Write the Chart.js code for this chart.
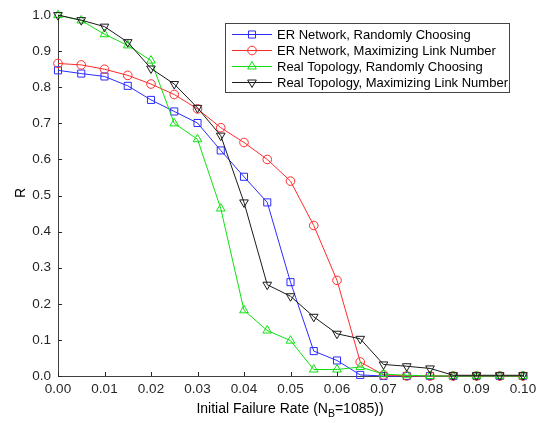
<!DOCTYPE html>
<html>
<head>
<meta charset="utf-8">
<script src="https://cdn.jsdelivr.net/npm/chart.js@4"></script>
<style>
html, body { margin: 0; padding: 0; background: #fff; }
#wrap { width: 542px; height: 423px; }
</style>
</head>
<body>
<div id="wrap"><canvas id="myChart" width="542" height="423"></canvas></div>
<script>
// failure rate values, one point every 0.005
var tasas = [0, 0.005, 0.01, 0.015, 0.02, 0.025, 0.03, 0.035, 0.04, 0.045, 0.05,
    0.055, 0.06, 0.065, 0.07, 0.075, 0.08, 0.085, 0.09, 0.095, 0.1];
var nombres = ['ER Network, Randomly Choosing', 'ER Network, Maximizing Link Number',
    'Real Topology, Randomly Choosing', 'Real Topology, Maximizing Link Number'];
var erAleatorio = [0.847, 0.838, 0.83, 0.804, 0.765, 0.733, 0.701, 0.625, 0.552, 0.481, 0.26,
    0.069, 0.043, 0.003, 0, 0, 0, 0, 0, 0, 0];
var erMaximo = [0.866, 0.862, 0.85, 0.833, 0.809, 0.78, 0.74, 0.688, 0.647, 0.6, 0.54,
    0.417, 0.265, 0.039, 0.003, 0, 0, 0, 0, 0, 0];
var realAleatorio = [1.0, 0.985, 0.947, 0.916, 0.874, 0.70, 0.656, 0.464, 0.182, 0.126, 0.098,
    0.018, 0.018, 0.025, 0.005, 0.002, 0, 0, 0, 0, 0];
var realMaximo = [1.0, 0.986, 0.968, 0.925, 0.852, 0.809, 0.743, 0.666, 0.481, 0.253, 0.221,
    0.164, 0.117, 0.103, 0.032, 0.027, 0.021, 0.002, 0.002, 0.002, 0.002];
var ticksX = [0, 0.01, 0.02, 0.03, 0.04, 0.05, 0.06, 0.07, 0.08, 0.09, 0.1];
var ticksY = [0, 0.1, 0.2, 0.3, 0.4, 0.5, 0.6, 0.7, 0.8, 0.9, 1.0];

var fuente = '"Liberation Sans", Arial, sans-serif';
var gris = '#262626';

function puntos(valores) {
    let res = [];
    for (let i = 0; i < tasas.length; i++) {
        res.push({x: tasas[i], y: valores[i]});
    }
    return res;
}

function serie(i, valores, color, estilo, radio, giro, orden) {
    return {
        label: nombres[i],
        data: puntos(valores),
        borderColor: color,
        backgroundColor: 'rgba(0,0,0,0)',
        pointBorderColor: color,
        pointBackgroundColor: 'rgba(0,0,0,0)',
        pointStyle: estilo,
        pointRadius: radio,
        pointRotation: giro,
        pointBorderWidth: 1,
        borderWidth: 1,
        tension: 0,
        clip: false,
        order: orden
    };
}

// ticks hacia adentro, titulos y leyenda dibujados a mano
var extras = {
    id: 'extras',
    afterDraw: function (chart) {
        let c = chart.ctx;
        let xs = chart.scales.x, ys = chart.scales.y;
        let area = chart.chartArea;
        c.save();
        c.strokeStyle = gris;
        c.lineWidth = 1;
        c.beginPath();
        ticksX.forEach(function (t) {
            let px = Math.round(xs.getPixelForValue(t)) + 0.5;
            c.moveTo(px, area.bottom);
            c.lineTo(px, area.bottom - 4);
        });
        ticksY.forEach(function (t) {
            let py = Math.round(ys.getPixelForValue(t)) + 0.5;
            c.moveTo(area.left, py);
            c.lineTo(area.left + 4, py);
        });
        c.stroke();

        // titulo eje x con subindice
        c.fillStyle = '#000';
        c.textBaseline = 'alphabetic';
        c.font = '14px ' + fuente;
        let partes = ['Initial Failure Rate (N', 'B', '=1085))'];
        let w0 = c.measureText(partes[0]).width;
        c.font = '10.5px ' + fuente;
        let w1 = c.measureText(partes[1]).width;
        c.font = '14px ' + fuente;
        let w2 = c.measureText(partes[2]).width;
        let x0 = 290 - (w0 + w1 + w2) / 2;
        let yb = 413;
        c.textAlign = 'left';
        c.fillText(partes[0], x0, yb);
        c.font = '10.5px ' + fuente;
        c.fillText(partes[1], x0 + w0, yb + 4);
        c.font = '14px ' + fuente;
        c.fillText(partes[2], x0 + w0 + w1, yb);

        // titulo eje y
        c.save();
        c.translate(25, 193);
        c.rotate(-Math.PI / 2);
        c.textAlign = 'center';
        c.fillText('R', 0, 0);
        c.restore();

        // leyenda
        let bx = 225.5, by = 23.5, bw = 284, bh = 69;
        c.fillStyle = '#fff';
        c.fillRect(bx, by, bw, bh);
        c.strokeStyle = '#444';
        c.strokeRect(bx, by, bw, bh);
        let filas = [34.5, 50.5, 66.5, 82.5];
        nombres.forEach(function (nombre, k) {
            let ds = chart.data.datasets[k];
            let y = filas[k];
            c.strokeStyle = ds.borderColor;
            c.lineWidth = 1;
            c.beginPath();
            c.moveTo(232, y);
            c.lineTo(272, y);
            c.stroke();
            c.fillStyle = 'rgba(0,0,0,0)';
            Chart.helpers.drawPoint(c, {
                pointStyle: ds.pointStyle,
                rotation: ds.pointRotation,
                radius: ds.pointRadius,
                borderWidth: 1
            }, 252, y);
            c.fillStyle = '#000';
            c.font = '13px ' + fuente;
            c.textAlign = 'left';
            c.textBaseline = 'middle';
            c.fillText(nombre, 277, y + 0.5);
        });
        c.restore();
    }
};

var ctx = document.getElementById('myChart').getContext('2d');
const myChart = new Chart(ctx, {
    type: 'line',
    data: {
        datasets: [
            serie(0, erAleatorio, '#2b2bff', 'rect', 5, 0, 4),
            serie(1, erMaximo, '#ff2b2b', 'circle', 4.3, 0, 3),
            serie(2, realAleatorio, '#10e010', 'triangle', 5, 0, 2),
            serie(3, realMaximo, '#1a1a1a', 'triangle', 5, 180, 1)
        ]
    },
    options: {
        responsive: false,
        animation: false,
        layout: {padding: {top: 10, right: 19, left: 0, bottom: 0}},
        plugins: {legend: {display: false}, tooltip: {enabled: false}},
        scales: {
            x: {
                type: 'linear',
                min: 0,
                max: 0.1,
                afterFit: function (s) { s.height = 47; },
                afterBuildTicks: function (s) { s.ticks = ticksX.map(function (v) { return {value: v}; }); },
                ticks: {
                    color: gris,
                    font: {family: fuente, size: 13.5},
                    padding: 5,
                    maxRotation: 0,
                    callback: function (v) { return v.toFixed(2); }
                },
                grid: {display: true, drawOnChartArea: false, drawTicks: false},
                border: {display: true, color: '#404040', width: 1}
            },
            y: {
                type: 'linear',
                min: 0,
                max: 1,
                afterFit: function (s) { s.width = 58; },
                afterBuildTicks: function (s) { s.ticks = ticksY.map(function (v) { return {value: v}; }); },
                ticks: {
                    color: gris,
                    font: {family: fuente, size: 13.5},
                    padding: 7,
                    callback: function (v) { return v.toFixed(1); }
                },
                grid: {display: true, drawOnChartArea: false, drawTicks: false},
                border: {display: true, color: '#404040', width: 1}
            }
        }
    },
    plugins: [extras]
});
</script>
</body>
</html>
